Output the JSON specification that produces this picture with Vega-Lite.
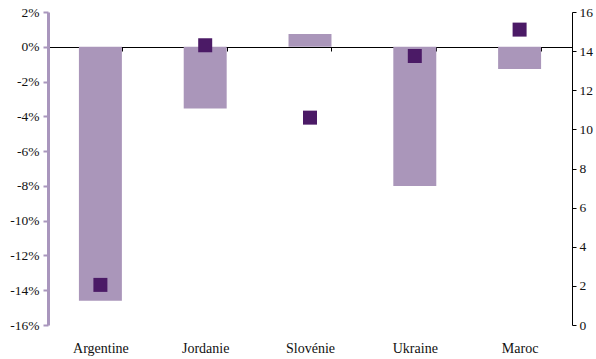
{
  "$schema": "https://vega.github.io/schema/vega-lite/v6.json",
  "width": 524,
  "height": 313,
  "autosize": {"type": "none"},
  "padding": {"left": 48, "top": 12, "right": 24, "bottom": 34},
  "background": "white",
  "config": {"view": {"stroke": null}, "font": "'Liberation Serif', serif"},
  "data": {
    "values": [
      {"pays": "Argentine", "variation": -0.146, "valeur": 2.05},
      {"pays": "Jordanie", "variation": -0.0355, "valeur": 14.3},
      {"pays": "Slovénie", "variation": 0.0074, "valeur": 10.6},
      {"pays": "Ukraine", "variation": -0.080, "valeur": 13.75},
      {"pays": "Maroc", "variation": -0.0128, "valeur": 15.1}
    ]
  },
  "encoding": {
    "x": {
      "field": "pays", "type": "nominal", "sort": null,
      "scale": {"paddingInner": 0.59, "paddingOuter": 0.295},
      "axis": {
        "title": null, "labelAngle": 0, "offset": -278, "domainColor": "#000000", "domainWidth": 1,
        "tickBand": "extent", "tickColor": "#000000", "tickSize": 4, "labelPadding": 290,
        "labelFont": "'Liberation Serif', serif", "labelFontSize": 14, "labelFontWeight": "normal", "labelColor": "#111111"
      }
    }
  },
  "layer": [
    {
      "mark": {"type": "bar", "color": "#aa96ba"},
      "encoding": {
        "y": {
          "field": "variation", "type": "quantitative",
          "scale": {"domain": [-0.16, 0.02], "nice": false},
          "axis": {
            "title": null, "orient": "left", "values": [-0.16, -0.14, -0.12, -0.1, -0.08, -0.06, -0.04, -0.02, 0, 0.02],
            "labelExpr": "(datum.value < -0.0001 ? '-' : '') + format(abs(datum.value)*100, '.0f') + '%'",
            "grid": false, "domainColor": "#a996bd", "domainWidth": 3, "tickColor": "#a996bd", "tickWidth": 2, "tickSize": 5,
            "labelPadding": 4, "labelFont": "'Liberation Serif', serif", "labelFontSize": 13.5, "labelFontWeight": "normal", "labelColor": "#111111"
          }
        }
      }
    },
    {
      "mark": {"type": "square", "color": "#4b1a66", "opacity": 1, "filled": true, "size": 196},
      "encoding": {
        "y": {
          "field": "valeur", "type": "quantitative",
          "scale": {"domain": [0, 16], "nice": false},
          "axis": {
            "title": null, "orient": "right", "values": [0, 2, 4, 6, 8, 10, 12, 14, 16],
            "grid": false, "domainColor": "#000000", "domainWidth": 1, "tickColor": "#000000", "tickSize": 4,
            "labelPadding": 3, "labelFont": "'Liberation Serif', serif", "labelFontSize": 13.5, "labelFontWeight": "normal", "labelColor": "#111111"
          }
        }
      }
    }
  ],
  "resolve": {"scale": {"y": "independent"}}
}
